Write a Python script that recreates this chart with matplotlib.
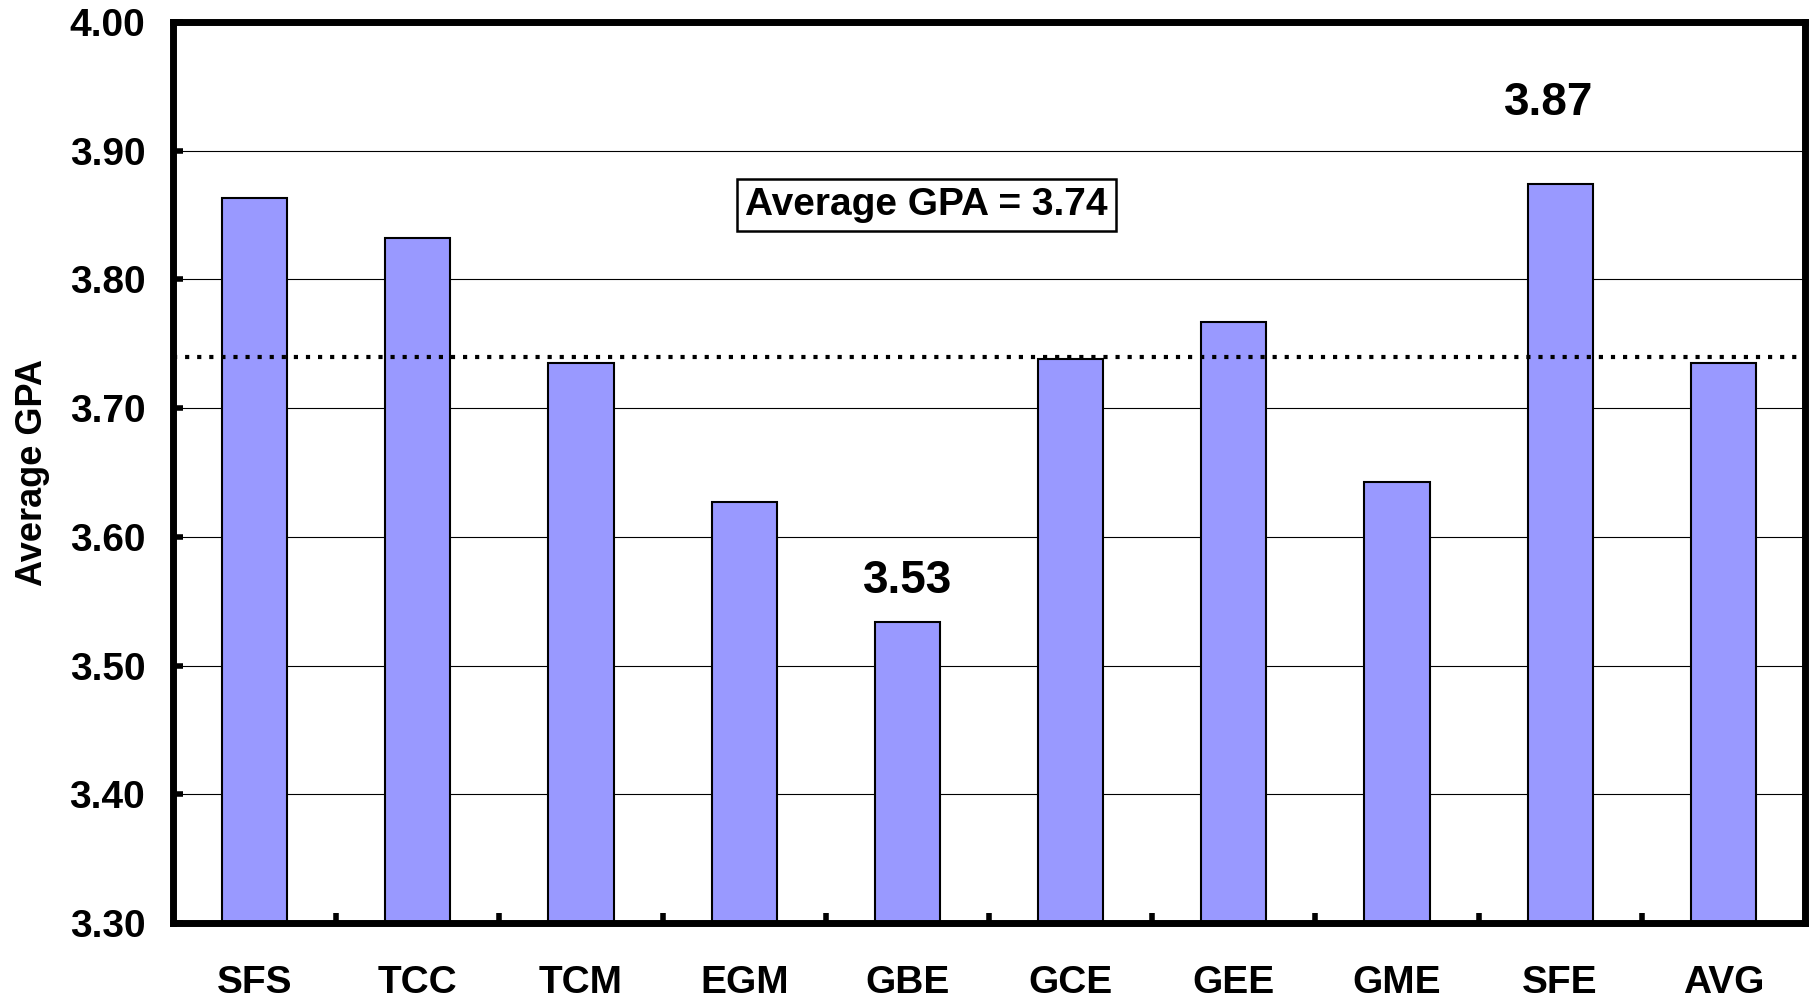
import numpy as np
import matplotlib
matplotlib.use("Agg")
import matplotlib.pyplot as plt

plt.rcParams['font.family'] = ['Liberation Sans', 'DejaVu Sans']
plt.rcParams['font.weight'] = 'bold'

# daten
colleges = ['SFS', 'TCC', 'TCM', 'EGM', 'GBE', 'GCE', 'GEE', 'GME', 'SFE', 'AVG']
gpa = [3.863, 3.832, 3.735, 3.627, 3.534, 3.738, 3.767, 3.643, 3.874, 3.735]
avg_gpa = 3.74
yticks = [3.30, 3.40, 3.50, 3.60, 3.70, 3.80, 3.90, 4.00]

fig = plt.figure(figsize=(18.16, 10.02), dpi=100)
ax = fig.add_axes([0.0953, 0.0788, 0.8986, 0.8992])

x = np.arange(len(colleges))
ax.bar(x, gpa, width=0.4, color='#9999FF', edgecolor='black', linewidth=1.5, zorder=3)

# gitterlinien
ax.set_ylim(3.30, 4.00)
ax.set_xlim(-0.5, len(colleges) - 0.5)
ax.set_yticks(yticks)
ax.set_yticklabels(['%.2f' % v for v in yticks])
ax.yaxis.grid(True, color='black', linewidth=0.8, zorder=0)
ax.set_axisbelow(True)

ax.set_xticks(x)
ax.set_xticklabels(colleges)
ax.set_xticks(np.arange(0.5, len(colleges) - 1), minor=True)
ax.tick_params(axis='x', which='major', length=0, pad=30, labelsize=28)
ax.tick_params(axis='x', which='minor', direction='in', length=7, width=4)
ax.tick_params(axis='y', direction='in', length=7, width=4, pad=20, labelsize=28)

for s in ax.spines.values():
    s.set_linewidth(5)
    s.set_zorder(5)

# durchschnittslinie
ax.plot([0, 1.006], [avg_gpa, avg_gpa], transform=ax.get_yaxis_transform(),
        color='black', linewidth=3, linestyle=(0, (1, 1.9)), clip_on=False, zorder=4)

ax.text(4.117, 3.858, 'Average GPA = %.2f' % avg_gpa, fontsize=28, fontweight='bold',
        ha='center', va='center', zorder=6,
        bbox=dict(boxstyle='square,pad=0.2', facecolor='white', edgecolor='black', linewidth=1.8))

# min und max
imin = int(np.argmin(gpa))
imax = int(np.argmax(gpa[:-1]))
ax.text(x[imin], gpa[imin] + 0.015, '%.2f' % gpa[imin], fontsize=33, fontweight='bold',
        ha='center', va='bottom')
ax.text(x[imax] - 0.07, gpa[imax] + 0.046, '%.2f' % gpa[imax], fontsize=33, fontweight='bold',
        ha='center', va='bottom')

ax.set_ylabel('Average GPA', fontsize=26, fontweight='bold', labelpad=14)

fig.savefig('out.png', dpi=100, facecolor='white')
